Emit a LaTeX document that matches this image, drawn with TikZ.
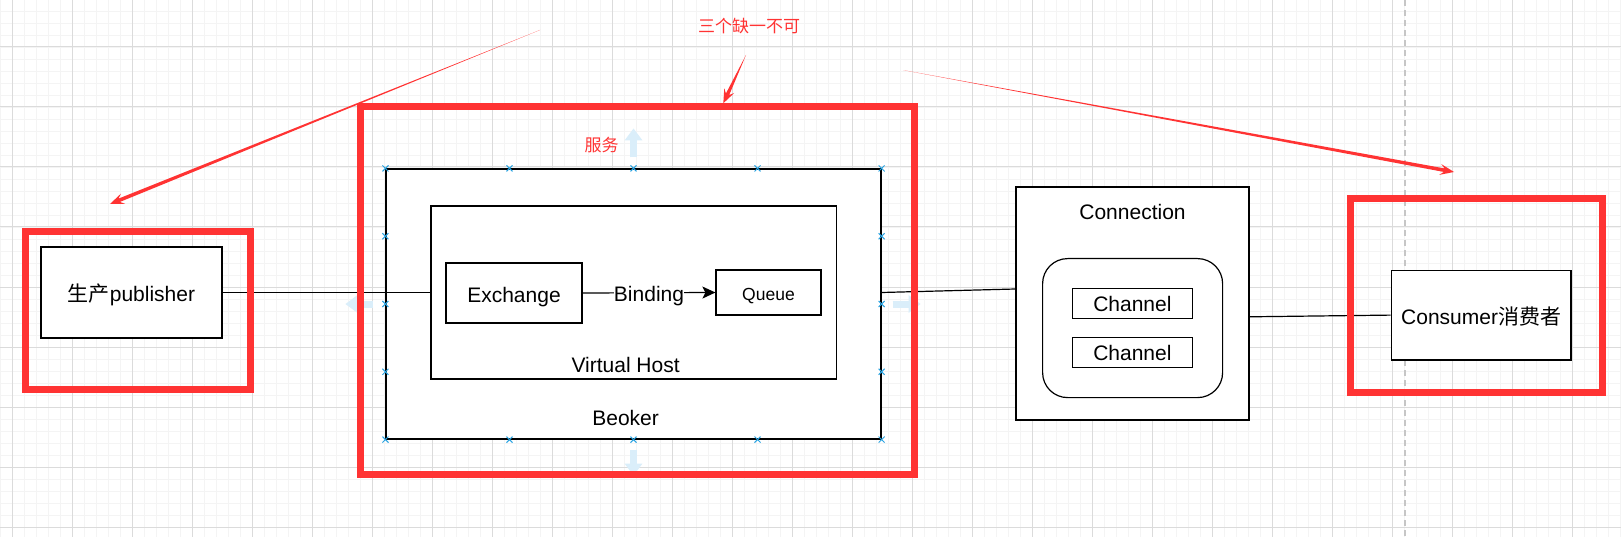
\documentclass[tikz,border=0pt]{standalone}
\usepackage{fontspec}
\setmainfont{Liberation Sans}
\newfontfamily\cjk{Noto Sans CJK SC}
\usetikzlibrary{calc,arrows.meta,shapes.misc}
\definecolor{redc}{HTML}{FF3333}
\definecolor{gminor}{gray}{0.955}
\definecolor{gmajor}{gray}{0.86}
\definecolor{hintblue}{RGB}{218,238,250}
\definecolor{markblue}{RGB}{41,163,225}
\newcommand{\taperarrow}[2]{%
  \coordinate (hbk) at ($(#2)!14pt!(#1)$);
  \coordinate (hnt) at ($(#2)!10pt!(#1)$);
  \fill[redc] (#1) -- ($(hnt)!1.8pt!90:(#1)$) -- ($(hbk)!5.5pt!90:(#1)$) -- (#2)
    -- ($(hbk)!5.5pt!-90:(#1)$) -- ($(hnt)!1.8pt!-90:(#1)$) -- cycle;
}
\begin{document}
\begin{tikzpicture}[x=1pt,y=-1pt,
  box/.style={draw=black, line width=1.2pt, fill=white, inner sep=0pt},
  redbox/.style={draw=redc, line width=7pt},
  txt/.style={font=\fontsize{21}{25}\selectfont, inner sep=0pt, text height=18pt, text depth=0pt},
  smalltxt/.style={font=\fontsize{17.5}{21}\selectfont, inner sep=0pt, text height=15pt, text depth=0pt},
  redtxt/.style={text=redc, font=\fontsize{17}{20}\selectfont, inner sep=0pt},
  link/.style={draw=black, line width=1.2pt},
  hint/.style={draw=hintblue, line width=7pt, -{Triangle[width=17pt,length=12pt]}},
  xmark/.style={cross out, draw=markblue, line width=1pt, minimum size=5pt, inner sep=0pt},
  minorline/.style={draw=gminor, line width=0.8pt},
  majorline/.style={draw=gmajor, line width=1pt},
  guide/.style={draw=gray!45, line width=1.2pt, dash pattern=on 6pt off 4pt}
]
\useasboundingbox (0,0) rectangle (1621,537);
\fill[white] (0,0) rectangle (1621,537);
% grid
\foreach \i in {0,...,135} \draw[minorline] ({12*\i},0) -- ({12*\i},537);
\foreach \j in {0,...,43} \draw[minorline] (0,{11+12*\j}) -- (1621,{11+12*\j});
\foreach \i in {0,...,26} \draw[majorline] ({12+60*\i},0) -- ({12+60*\i},537);
\foreach \j in {0,...,8} \draw[majorline] (0,{47+60*\j}) -- (1621,{47+60*\j});
% dashed guide
\coordinate (gtop) at (1405,0);
\coordinate (gbot) at (1405,537);
\draw[guide] (gtop) -- (gbot);

% boxes
\node[box, minimum width=181pt, minimum height=91pt] (pub) at (131.5,292.5) {};
\node[txt] (publbl) at (pub.center) {{\cjk 生产}publisher};
\node[box, minimum width=495pt, minimum height=270pt] (beoker) at (633.5,304) {};
\node[txt] (beokerlbl) at (625.6,416.3) {Beoker};
\node[box, minimum width=405.5pt, minimum height=173pt] (vh) at (633.75,292.5) {};
\node[txt] (vhlbl) at (625.6,363.5) {Virtual Host};
\node[box, minimum width=136pt, minimum height=60pt] (exch) at (514,293) {};
\node[txt] (exchlbl) at (exch.center) {Exchange};
\node[box, minimum width=105pt, minimum height=45pt] (queue) at (768.5,292.5) {};
\node[smalltxt] (queuelbl) at (queue.center) {Queue};

\node[box, minimum width=233pt, minimum height=233pt] (conn) at (1132.5,303.5) {};
\node[txt] (connlbl) at (1132.5,211) {Connection};
\node[box, rounded corners=25pt, minimum width=180pt, minimum height=139pt] (chgroup) at (1132.6,328.1) {};
\node[box, minimum width=120pt, minimum height=30pt] (ch1) at (1132.35,303.75) {};
\node[txt] (ch1lbl) at ([yshift=1pt]ch1.center) {Channel};
\node[box, minimum width=120pt, minimum height=30pt] (ch2) at (1132.35,352.75) {};
\node[txt] (ch2lbl) at ([yshift=1pt]ch2.center) {Channel};
\node[box, minimum width=179.6pt, minimum height=89.8pt] (cons) at (1481.1,315.1) {};
\node[txt] (conslbl) at ([yshift=-0.5pt]cons.center) {Consumer{\cjk 消费者}};

% connectors
\draw[link] (pub.east) -- (vh.west);
\draw[link] (beoker.east |- pub.east) -- ([yshift=14.5pt]conn.west);
\draw[link] ([yshift=-13.3pt]conn.east) -- (cons.west);
\draw[link, -{Stealth[length=13pt,width=12pt,inset=3pt]}] (exch.east) -- (queue.west)
  node[midway, txt, fill=white] (bind) {Binding};

% selection hints
\draw[hint] ([yshift=11pt]beoker.north) -- ([yshift=40pt]beoker.north);
\draw[hint] ([yshift=-10pt]beoker.south) -- ([yshift=-36pt]beoker.south);
\draw[hint] ([xshift=-12pt]beoker.west) -- ([xshift=-40pt]beoker.west);
\draw[hint] ([xshift=11pt]beoker.east) -- ([xshift=39pt]beoker.east);
\foreach \p in {0,0.25,0.5,0.75,1} {
  \node[xmark] at ($(beoker.north west)!\p!(beoker.north east)$) {};
  \node[xmark] at ($(beoker.south west)!\p!(beoker.south east)$) {};
}
\foreach \p in {0.25,0.5,0.75} {
  \node[xmark] at ($(beoker.north west)!\p!(beoker.south west)$) {};
  \node[xmark] at ($(beoker.north east)!\p!(beoker.south east)$) {};
}

% red annotations
\node[redtxt] (svc) at (601.7,145) {\cjk 服务};
\node[redtxt] (must) at (749,26) {\cjk 三个缺一不可};
\node[redbox, minimum width=225.4pt, minimum height=158pt, inner sep=0pt] (pubred) at (138,310.3) {};
\node[redbox, minimum width=554.2pt, minimum height=367.3pt, inner sep=0pt] (beokerred) at (637.4,290.35) {};
\node[redbox, minimum width=252.5pt, minimum height=193.7pt, inner sep=0pt] (consred) at (1476.65,295.85) {};

\coordinate (a1s) at (540,30);
\coordinate (a1e) at (110,204);
\coordinate (a2s) at (746,55);
\coordinate (a2e) at (723.3,103.3);
\coordinate (a3s) at (903.6,70.2);
\coordinate (a3e) at (1454,172);
\taperarrow{a1s}{a1e}
\taperarrow{a2s}{a2e}
\taperarrow{a3s}{a3e}
\end{tikzpicture}
\end{document}
